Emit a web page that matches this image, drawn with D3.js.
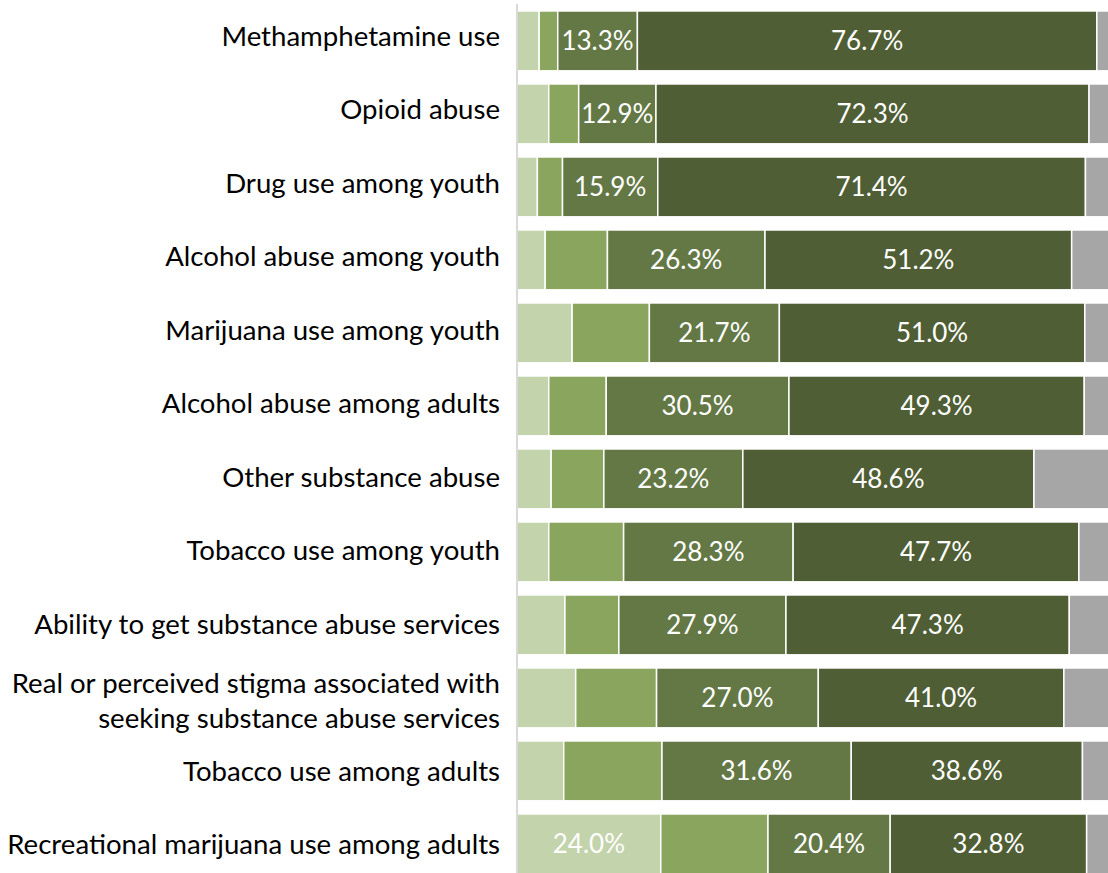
<!DOCTYPE html>
<html>
<head>
<meta charset="utf-8">
<script src="https://cdn.jsdelivr.net/npm/d3@7"></script>
<style>
  html, body { margin: 0; padding: 0; background: #fff; overflow: hidden; }
  svg { display: block; font-family: Lato, "Open Sans", sans-serif; }
</style>
</head>
<body>
<div id="chart"></div>
<script>
var categories = [
    "Methamphetamine use",
    "Opioid abuse",
    "Drug use among youth",
    "Alcohol abuse among youth",
    "Marijuana use among youth",
    "Alcohol abuse among adults",
    "Other substance abuse",
    "Tobacco use among youth",
    "Ability to get substance abuse services",
    "Real or perceived stigma associated with|seeking substance abuse services",
    "Tobacco use among adults",
    "Recreational marijuana use among adults"
];

// five response levels, left to right (percent)
var level1 = [3.7, 5.3, 3.4, 4.7, 9.2, 5.3, 5.7, 5.3, 8.0, 9.8, 7.8, 24.0];
var level2 = [3.1, 5.0, 4.2, 10.4, 12.9, 9.6, 8.8, 12.5, 9.0, 13.5, 16.4, 17.9];
var level3 = [13.3, 12.9, 15.9, 26.3, 21.7, 30.5, 23.2, 28.3, 27.9, 27.0, 31.6, 20.4];
var level4 = [76.7, 72.3, 71.4, 51.2, 51.0, 49.3, 48.6, 47.7, 47.3, 41.0, 38.6, 32.8];
var level5 = [3.2, 4.5, 5.1, 7.4, 5.2, 5.3, 13.7, 6.2, 7.8, 8.7, 5.6, 4.9];

var seriesKeys = ["l1", "l2", "l3", "l4", "l5"];
var colors = ["#c3d3ab", "#8aa55e", "#647846", "#4f5e34", "#a6a6a6"];

var width = 1108, height = 873;

var rows = categories.map(function (c, i) {
    return { cat: c, l1: level1[i], l2: level2[i], l3: level3[i], l4: level4[i], l5: level5[i] };
});

var svg = d3.select("#chart").append("svg")
    .attr("width", width)
    .attr("height", height);

var x = d3.scaleLinear().domain([0, 100]).range([517, 1116]);

var y = d3.scaleBand()
    .domain(categories)
    .range([4.4, 880.4])
    .paddingInner(0.18)
    .paddingOuter(0.09);

// label baselines sit on a slightly different step than the bars
var yLabel = d3.scalePoint()
    .domain(categories)
    .range([45.7, 854.3]);

var stack = d3.stack().keys(seriesKeys);
var layers = stack(rows);

var groups = svg.selectAll("g.layer")
    .data(layers)
    .enter()
    .append("g")
    .attr("class", "layer")
    .attr("fill", function (d, i) { return colors[i]; });

groups.selectAll("rect")
    .data(function (d) { return d; })
    .enter()
    .append("rect")
    .attr("x", function (d) { return x(d[0]); })
    .attr("y", function (d) { return y(d.data.cat); })
    .attr("width", function (d) { return x(d[1]) - x(d[0]); })
    .attr("height", y.bandwidth())
    .attr("stroke", "#fff")
    .attr("stroke-width", 1.5);

// value labels: middle two levels always, others only when large
groups.each(function (layer, i) {
    d3.select(this).selectAll("text")
        .data(layer.filter(function (d) {
            var v = d[1] - d[0];
            return i === 2 || i === 3 || v >= 20;
        }))
        .enter()
        .append("text")
        .attr("x", function (d) { return (x(d[0]) + x(d[1])) / 2; })
        .attr("y", function (d) { return y(d.data.cat) + y.bandwidth() / 2 + 9.5; })
        .attr("text-anchor", "middle")
        .attr("fill", "#fff")
        .attr("font-size", 26)
        .text(function (d) { return (d[1] - d[0]).toFixed(1) + "%"; });
});

// vertical axis line
svg.append("line")
    .attr("x1", 517).attr("x2", 517)
    .attr("y1", 4).attr("y2", height)
    .attr("stroke", "#d9d9d9")
    .attr("stroke-width", 2);

// category labels
var labels = svg.selectAll("text.cat")
    .data(categories)
    .enter()
    .append("text")
    .attr("class", "cat")
    .attr("x", 500)
    .attr("y", function (d) { return yLabel(d); })
    .attr("text-anchor", "end")
    .attr("fill", "#000")
    .attr("font-size", 27.6);

labels.each(function (d) {
    var parts = d.split("|");
    var t = d3.select(this);
    if (parts.length === 1) {
        t.text(d);
    } else {
        parts.forEach(function (p, k) {
            t.append("tspan")
                .attr("x", 500)
                .attr("dy", k === 0 ? -14.5 : 35)
                .text(p);
        });
    }
});
</script>
</body>
</html>
